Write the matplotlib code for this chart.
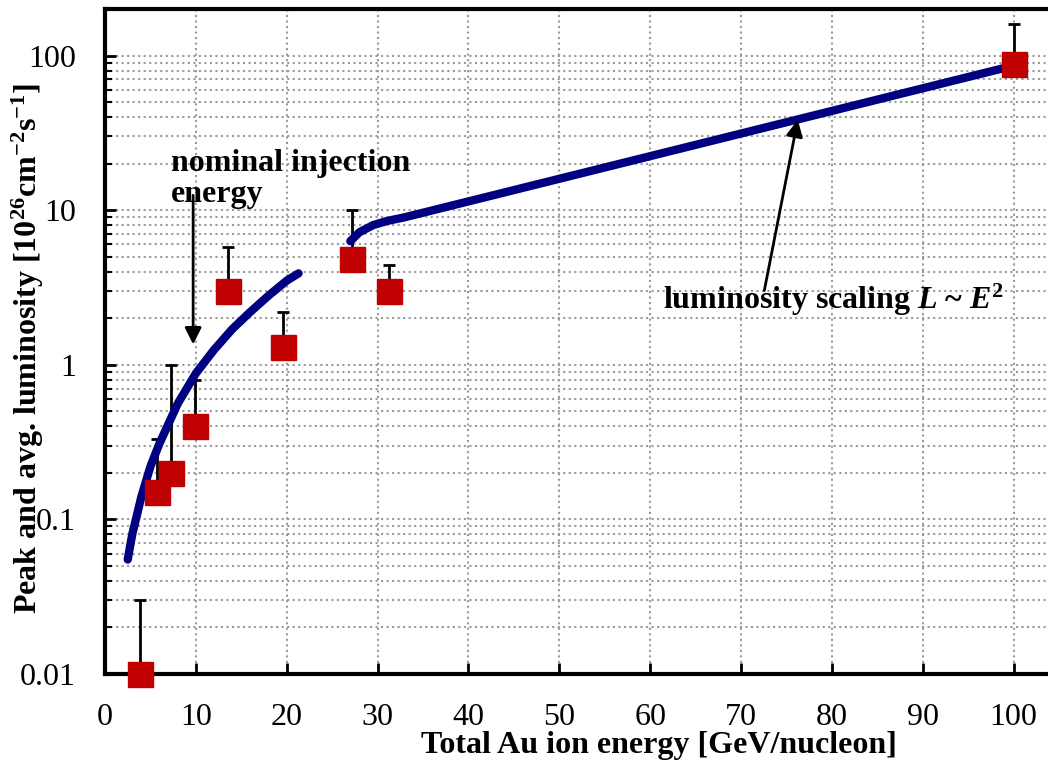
import matplotlib
matplotlib.use('Agg')
import matplotlib.pyplot as plt
from matplotlib.ticker import LogLocator, FixedLocator, NullFormatter
import numpy as np

plt.rcParams['font.family'] = ['Liberation Serif', 'DejaVu Serif']
plt.rcParams['mathtext.fontset'] = 'custom'
plt.rcParams['mathtext.rm'] = 'Liberation Serif'
plt.rcParams['mathtext.it'] = 'Liberation Serif:italic:bold'
plt.rcParams['mathtext.bf'] = 'Liberation Serif:bold'

# measured points
energy = [3.85, 5.7, 7.3, 9.9, 13.5, 19.6, 27.2, 31.2, 100.0]
lumi = [0.01, 0.15, 0.2, 0.4, 3.0, 1.3, 4.8, 3.0, 88.0]
lumi_top = [0.03, 0.33, 1.0, 0.8, 5.8, 2.2, 10.0, 4.4, 160.0]

# curve below nominal injection energy
low_x = [2.5, 3, 4, 5, 6, 8, 10, 12, 14, 16, 18, 20, 21.3]
low_y = [0.055, 0.08, 0.14, 0.22, 0.31, 0.56, 0.88, 1.25, 1.7, 2.2, 2.8, 3.5, 3.9]

# curve above injection
high_x = [27.0, 28.0, 29.5, 31.0, 33.0, 100.0]
high_y = [6.3, 7.2, 8.0, 8.5, 9.0, 86.0]

fig = plt.figure(figsize=(10.48, 7.61), dpi=100)
ax = fig.add_axes([105 / 1048, 1 - 674 / 761, 945 / 1048, 665 / 761])

ax.set_yscale('log')
ax.set_xlim(0, 104)
ax.set_ylim(0.01, 200)

ax.plot(low_x, low_y, color='#000080', lw=6, solid_capstyle='round', zorder=3)
ax.plot(high_x, high_y, color='#000080', lw=6, solid_capstyle='round', zorder=3)

yerr = [np.zeros(len(lumi)), np.array(lumi_top) - np.array(lumi)]
ax.errorbar(energy, lumi, yerr=yerr, fmt='none', ecolor='black', elinewidth=2,
            capsize=4.5, capthick=2, zorder=2)
ax.plot(energy, lumi, 's', color='#C00000', markersize=18, zorder=4, clip_on=False)

ax.xaxis.set_major_locator(FixedLocator(range(0, 101, 10)))
ax.yaxis.set_minor_locator(LogLocator(base=10, subs=np.arange(2, 10), numticks=20))
ax.yaxis.set_minor_formatter(NullFormatter())
ax.set_yticks([0.01, 0.1, 1, 10, 100])
ax.set_yticklabels(['0.01', '0.1', '1', '10', '100'])

ax.grid(True, which='major', axis='x', linestyle=':', color='#999999', lw=1.5)
ax.grid(True, which='both', axis='y', linestyle=':', color='#999999', lw=1.5)

ax.tick_params(axis='both', which='major', direction='in', length=8, width=2,
               labelsize=23, pad=21)
ax.tick_params(axis='y', which='minor', direction='in', length=5, width=1.5)
for s in ax.spines.values():
    s.set_linewidth(3)

ax.set_xlabel('Total Au ion energy [GeV/nucleon]', fontsize=23, fontweight='bold')
ax.xaxis.set_label_coords(0.586, -0.086)
ax.set_ylabel(r'Peak and avg. luminosity [10$^{\mathbf{26}}$cm$^{\mathbf{-2}}$s$^{\mathbf{-1}}$]',
              fontsize=23, fontweight='bold')
ax.yaxis.set_label_coords(-0.062, 0.49)

ax.text(7.3, 25, 'nominal injection\nenergy', fontsize=23, fontweight='bold',
        va='top', ha='left', linespacing=1.12)
ax.annotate('', xy=(9.7, 1.3), xytext=(9.7, 13),
            arrowprops=dict(arrowstyle='-|>', color='black', lw=2, mutation_scale=25))

ax.text(61.4, 2.3, r'luminosity scaling $\mathit{L}$ ~ $\mathit{E}$$^{\mathbf{2}}$',
        fontsize=23, fontweight='bold', ha='left', va='baseline')
ax.annotate('', xy=(76.3, 40), xytext=(72.5, 2.9),
            arrowprops=dict(arrowstyle='-|>', color='black', lw=2, mutation_scale=25))

fig.savefig('out.png', dpi=100)
